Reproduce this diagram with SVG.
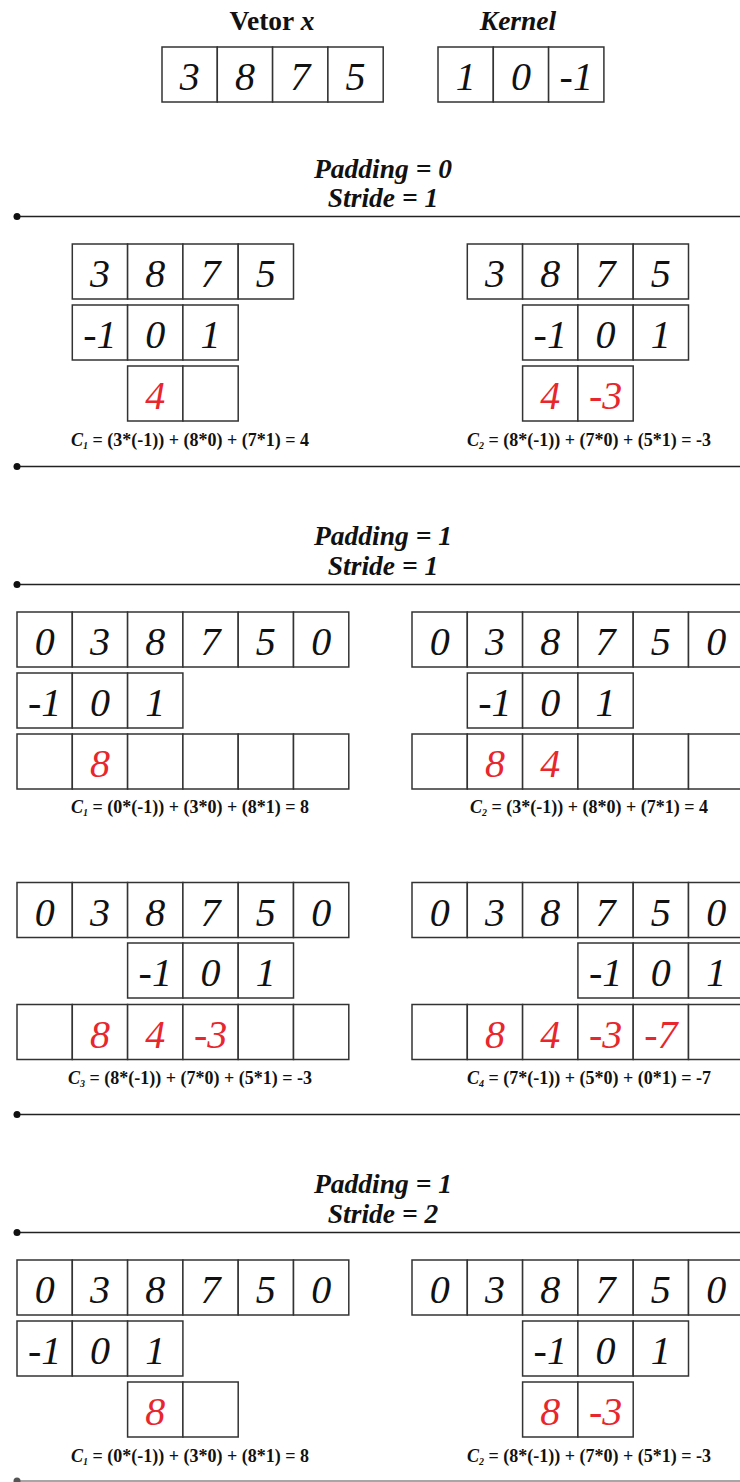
<svg xmlns="http://www.w3.org/2000/svg" width="740" height="1482" viewBox="0 0 740 1482">
<style>
.c{fill:#fff;stroke:#333;stroke-width:1.5}
.n{font-family:"Liberation Serif",serif;font-style:italic;font-size:40px;text-anchor:middle;fill:#111}
.r{fill:#e8262d}
.h{font-family:"Liberation Serif",serif;font-style:italic;font-weight:bold;font-size:27.5px;text-anchor:middle;fill:#111}
.f{font-family:"Liberation Serif",serif;font-weight:bold;font-size:18px;text-anchor:middle;fill:#111}
.ln{stroke:#222;stroke-width:1.5;fill:none}
</style>
<rect width="740" height="1482" fill="#fff"/>

<g id="titles">
<text class="h" x="272" y="30" style="font-style:normal">Vetor <tspan style="font-style:italic">x</tspan></text>
<text class="h" x="518" y="30">Kernel</text>
</g>

<g id="vector-x">
<rect class="c" x="162" y="47" width="55.3" height="55"/><rect class="c" x="217.3" y="47" width="55.3" height="55"/><rect class="c" x="272.6" y="47" width="55.3" height="55"/><rect class="c" x="327.9" y="47" width="55.3" height="55"/>
<text class="n" x="189.65" y="90">3</text><text class="n" x="244.95" y="90">8</text><text class="n" x="300.25" y="90">7</text><text class="n" x="355.55" y="90">5</text>
</g>
<g id="kernel">
<rect class="c" x="438" y="47" width="55.3" height="55"/><rect class="c" x="493.3" y="47" width="55.3" height="55"/><rect class="c" x="548.6" y="47" width="55.3" height="55"/>
<text class="n" x="465.65" y="90">1</text><text class="n" x="520.95" y="90">0</text><text class="n" x="576.25" y="90">-1</text>
</g>

<g id="connectors">
<line class="ln" x1="17" y1="216.5" x2="740" y2="216.5"/><circle cx="17" cy="216.5" r="3.5" fill="#111"/>
<line class="ln" x1="17" y1="466.5" x2="740" y2="466.5"/><circle cx="17" cy="466.5" r="3.5" fill="#111"/>
<line class="ln" x1="17" y1="584.5" x2="740" y2="584.5"/><circle cx="17" cy="584.5" r="3.5" fill="#111"/>
<line class="ln" x1="17" y1="1114.5" x2="740" y2="1114.5"/><circle cx="17" cy="1114.5" r="3.5" fill="#111"/>
<line class="ln" x1="17" y1="1232.5" x2="740" y2="1232.5"/><circle cx="17" cy="1232.5" r="3.5" fill="#111"/>
<line class="ln" x1="17" y1="1481" x2="740" y2="1481" style="stroke:#888"/><circle cx="17" cy="1481" r="3.5" fill="#555"/>
</g>

<!-- Section 1 -->
<g id="heading-1">
<text class="h" x="383" y="178">Padding = 0</text>
<text class="h" x="383" y="207">Stride = 1</text>
</g>
<g id="s1-left">
<rect class="c" x="72.3" y="244" width="55.3" height="55"/><rect class="c" x="127.6" y="244" width="55.3" height="55"/><rect class="c" x="182.9" y="244" width="55.3" height="55"/><rect class="c" x="238.2" y="244" width="55.3" height="55"/>
<text class="n" x="99.95" y="287">3</text><text class="n" x="155.25" y="287">8</text><text class="n" x="210.55" y="287">7</text><text class="n" x="265.85" y="287">5</text>
<rect class="c" x="72.3" y="305" width="55.3" height="55"/><rect class="c" x="127.6" y="305" width="55.3" height="55"/><rect class="c" x="182.9" y="305" width="55.3" height="55"/>
<text class="n" x="99.95" y="348">-1</text><text class="n" x="155.25" y="348">0</text><text class="n" x="210.55" y="348">1</text>
<rect class="c" x="127.6" y="366" width="55.3" height="55"/><rect class="c" x="182.9" y="366" width="55.3" height="55"/>
<text class="n r" x="155.25" y="409">4</text>
<text class="f" x="190" y="446"><tspan style="font-style:italic">C</tspan><tspan style="font-style:italic;font-size:10px" dy="3">1</tspan><tspan dy="-3"> = (3*(-1)) + (8*0) + (7*1) = 4</tspan></text>
</g>
<g id="s1-right">
<rect class="c" x="467.3" y="244" width="55.3" height="55"/><rect class="c" x="522.6" y="244" width="55.3" height="55"/><rect class="c" x="577.9" y="244" width="55.3" height="55"/><rect class="c" x="633.2" y="244" width="55.3" height="55"/>
<text class="n" x="494.95" y="287">3</text><text class="n" x="550.25" y="287">8</text><text class="n" x="605.55" y="287">7</text><text class="n" x="660.85" y="287">5</text>
<rect class="c" x="522.6" y="305" width="55.3" height="55"/><rect class="c" x="577.9" y="305" width="55.3" height="55"/><rect class="c" x="633.2" y="305" width="55.3" height="55"/>
<text class="n" x="550.25" y="348">-1</text><text class="n" x="605.55" y="348">0</text><text class="n" x="660.85" y="348">1</text>
<rect class="c" x="522.6" y="366" width="55.3" height="55"/><rect class="c" x="577.9" y="366" width="55.3" height="55"/>
<text class="n r" x="550.25" y="409">4</text><text class="n r" x="605.55" y="409">-3</text>
<text class="f" x="589" y="446"><tspan style="font-style:italic">C</tspan><tspan style="font-style:italic;font-size:10px" dy="3">2</tspan><tspan dy="-3"> = (8*(-1)) + (7*0) + (5*1) = -3</tspan></text>
</g>

<!-- Section 2 -->
<g id="heading-2">
<text class="h" x="383" y="545">Padding = 1</text>
<text class="h" x="383" y="575">Stride = 1</text>
</g>
<g id="s2-a-left">
<rect class="c" x="17" y="612" width="55.3" height="55"/><rect class="c" x="72.3" y="612" width="55.3" height="55"/><rect class="c" x="127.6" y="612" width="55.3" height="55"/><rect class="c" x="182.9" y="612" width="55.3" height="55"/><rect class="c" x="238.2" y="612" width="55.3" height="55"/><rect class="c" x="293.5" y="612" width="55.3" height="55"/>
<text class="n" x="44.65" y="655">0</text><text class="n" x="99.95" y="655">3</text><text class="n" x="155.25" y="655">8</text><text class="n" x="210.55" y="655">7</text><text class="n" x="265.85" y="655">5</text><text class="n" x="321.15" y="655">0</text>
<rect class="c" x="17" y="673" width="55.3" height="55"/><rect class="c" x="72.3" y="673" width="55.3" height="55"/><rect class="c" x="127.6" y="673" width="55.3" height="55"/>
<text class="n" x="44.65" y="716">-1</text><text class="n" x="99.95" y="716">0</text><text class="n" x="155.25" y="716">1</text>
<rect class="c" x="17" y="734" width="55.3" height="55"/><rect class="c" x="72.3" y="734" width="55.3" height="55"/><rect class="c" x="127.6" y="734" width="55.3" height="55"/><rect class="c" x="182.9" y="734" width="55.3" height="55"/><rect class="c" x="238.2" y="734" width="55.3" height="55"/><rect class="c" x="293.5" y="734" width="55.3" height="55"/>
<text class="n r" x="99.95" y="777">8</text>
<text class="f" x="190" y="813"><tspan style="font-style:italic">C</tspan><tspan style="font-style:italic;font-size:10px" dy="3">1</tspan><tspan dy="-3"> = (0*(-1)) + (3*0) + (8*1) = 8</tspan></text>
</g>
<g id="s2-a-right">
<rect class="c" x="412" y="612" width="55.3" height="55"/><rect class="c" x="467.3" y="612" width="55.3" height="55"/><rect class="c" x="522.6" y="612" width="55.3" height="55"/><rect class="c" x="577.9" y="612" width="55.3" height="55"/><rect class="c" x="633.2" y="612" width="55.3" height="55"/><rect class="c" x="688.5" y="612" width="55.3" height="55"/>
<text class="n" x="439.65" y="655">0</text><text class="n" x="494.95" y="655">3</text><text class="n" x="550.25" y="655">8</text><text class="n" x="605.55" y="655">7</text><text class="n" x="660.85" y="655">5</text><text class="n" x="716.15" y="655">0</text>
<rect class="c" x="467.3" y="673" width="55.3" height="55"/><rect class="c" x="522.6" y="673" width="55.3" height="55"/><rect class="c" x="577.9" y="673" width="55.3" height="55"/>
<text class="n" x="494.95" y="716">-1</text><text class="n" x="550.25" y="716">0</text><text class="n" x="605.55" y="716">1</text>
<rect class="c" x="412" y="734" width="55.3" height="55"/><rect class="c" x="467.3" y="734" width="55.3" height="55"/><rect class="c" x="522.6" y="734" width="55.3" height="55"/><rect class="c" x="577.9" y="734" width="55.3" height="55"/><rect class="c" x="633.2" y="734" width="55.3" height="55"/><rect class="c" x="688.5" y="734" width="55.3" height="55"/>
<text class="n r" x="494.95" y="777">8</text><text class="n r" x="550.25" y="777">4</text>
<text class="f" x="589" y="813"><tspan style="font-style:italic">C</tspan><tspan style="font-style:italic;font-size:10px" dy="3">2</tspan><tspan dy="-3"> = (3*(-1)) + (8*0) + (7*1) = 4</tspan></text>
</g>
<g id="s2-b-left">
<rect class="c" x="17" y="882.5" width="55.3" height="55"/><rect class="c" x="72.3" y="882.5" width="55.3" height="55"/><rect class="c" x="127.6" y="882.5" width="55.3" height="55"/><rect class="c" x="182.9" y="882.5" width="55.3" height="55"/><rect class="c" x="238.2" y="882.5" width="55.3" height="55"/><rect class="c" x="293.5" y="882.5" width="55.3" height="55"/>
<text class="n" x="44.65" y="925.5">0</text><text class="n" x="99.95" y="925.5">3</text><text class="n" x="155.25" y="925.5">8</text><text class="n" x="210.55" y="925.5">7</text><text class="n" x="265.85" y="925.5">5</text><text class="n" x="321.15" y="925.5">0</text>
<rect class="c" x="127.6" y="943" width="55.3" height="55"/><rect class="c" x="182.9" y="943" width="55.3" height="55"/><rect class="c" x="238.2" y="943" width="55.3" height="55"/>
<text class="n" x="155.25" y="986">-1</text><text class="n" x="210.55" y="986">0</text><text class="n" x="265.85" y="986">1</text>
<rect class="c" x="17" y="1004.5" width="55.3" height="55"/><rect class="c" x="72.3" y="1004.5" width="55.3" height="55"/><rect class="c" x="127.6" y="1004.5" width="55.3" height="55"/><rect class="c" x="182.9" y="1004.5" width="55.3" height="55"/><rect class="c" x="238.2" y="1004.5" width="55.3" height="55"/><rect class="c" x="293.5" y="1004.5" width="55.3" height="55"/>
<text class="n r" x="99.95" y="1047.5">8</text><text class="n r" x="155.25" y="1047.5">4</text><text class="n r" x="210.55" y="1047.5">-3</text>
<text class="f" x="190" y="1083.5"><tspan style="font-style:italic">C</tspan><tspan style="font-style:italic;font-size:10px" dy="3">3</tspan><tspan dy="-3"> = (8*(-1)) + (7*0) + (5*1) = -3</tspan></text>
</g>
<g id="s2-b-right">
<rect class="c" x="412" y="882.5" width="55.3" height="55"/><rect class="c" x="467.3" y="882.5" width="55.3" height="55"/><rect class="c" x="522.6" y="882.5" width="55.3" height="55"/><rect class="c" x="577.9" y="882.5" width="55.3" height="55"/><rect class="c" x="633.2" y="882.5" width="55.3" height="55"/><rect class="c" x="688.5" y="882.5" width="55.3" height="55"/>
<text class="n" x="439.65" y="925.5">0</text><text class="n" x="494.95" y="925.5">3</text><text class="n" x="550.25" y="925.5">8</text><text class="n" x="605.55" y="925.5">7</text><text class="n" x="660.85" y="925.5">5</text><text class="n" x="716.15" y="925.5">0</text>
<rect class="c" x="577.9" y="943" width="55.3" height="55"/><rect class="c" x="633.2" y="943" width="55.3" height="55"/><rect class="c" x="688.5" y="943" width="55.3" height="55"/>
<text class="n" x="605.55" y="986">-1</text><text class="n" x="660.85" y="986">0</text><text class="n" x="716.15" y="986">1</text>
<rect class="c" x="412" y="1004.5" width="55.3" height="55"/><rect class="c" x="467.3" y="1004.5" width="55.3" height="55"/><rect class="c" x="522.6" y="1004.5" width="55.3" height="55"/><rect class="c" x="577.9" y="1004.5" width="55.3" height="55"/><rect class="c" x="633.2" y="1004.5" width="55.3" height="55"/><rect class="c" x="688.5" y="1004.5" width="55.3" height="55"/>
<text class="n r" x="494.95" y="1047.5">8</text><text class="n r" x="550.25" y="1047.5">4</text><text class="n r" x="605.55" y="1047.5">-3</text><text class="n r" x="660.85" y="1047.5">-7</text>
<text class="f" x="589" y="1083.5"><tspan style="font-style:italic">C</tspan><tspan style="font-style:italic;font-size:10px" dy="3">4</tspan><tspan dy="-3"> = (7*(-1)) + (5*0) + (0*1) = -7</tspan></text>
</g>

<!-- Section 3 -->
<g id="heading-3">
<text class="h" x="383" y="1193">Padding = 1</text>
<text class="h" x="383" y="1223">Stride = 2</text>
</g>
<g id="s3-left">
<rect class="c" x="17" y="1260" width="55.3" height="55"/><rect class="c" x="72.3" y="1260" width="55.3" height="55"/><rect class="c" x="127.6" y="1260" width="55.3" height="55"/><rect class="c" x="182.9" y="1260" width="55.3" height="55"/><rect class="c" x="238.2" y="1260" width="55.3" height="55"/><rect class="c" x="293.5" y="1260" width="55.3" height="55"/>
<text class="n" x="44.65" y="1303">0</text><text class="n" x="99.95" y="1303">3</text><text class="n" x="155.25" y="1303">8</text><text class="n" x="210.55" y="1303">7</text><text class="n" x="265.85" y="1303">5</text><text class="n" x="321.15" y="1303">0</text>
<rect class="c" x="17" y="1321" width="55.3" height="55"/><rect class="c" x="72.3" y="1321" width="55.3" height="55"/><rect class="c" x="127.6" y="1321" width="55.3" height="55"/>
<text class="n" x="44.65" y="1364">-1</text><text class="n" x="99.95" y="1364">0</text><text class="n" x="155.25" y="1364">1</text>
<rect class="c" x="127.6" y="1382" width="55.3" height="55"/><rect class="c" x="182.9" y="1382" width="55.3" height="55"/>
<text class="n r" x="155.25" y="1425">8</text>
<text class="f" x="190" y="1462"><tspan style="font-style:italic">C</tspan><tspan style="font-style:italic;font-size:10px" dy="3">1</tspan><tspan dy="-3"> = (0*(-1)) + (3*0) + (8*1) = 8</tspan></text>
</g>
<g id="s3-right">
<rect class="c" x="412" y="1260" width="55.3" height="55"/><rect class="c" x="467.3" y="1260" width="55.3" height="55"/><rect class="c" x="522.6" y="1260" width="55.3" height="55"/><rect class="c" x="577.9" y="1260" width="55.3" height="55"/><rect class="c" x="633.2" y="1260" width="55.3" height="55"/><rect class="c" x="688.5" y="1260" width="55.3" height="55"/>
<text class="n" x="439.65" y="1303">0</text><text class="n" x="494.95" y="1303">3</text><text class="n" x="550.25" y="1303">8</text><text class="n" x="605.55" y="1303">7</text><text class="n" x="660.85" y="1303">5</text><text class="n" x="716.15" y="1303">0</text>
<rect class="c" x="522.6" y="1321" width="55.3" height="55"/><rect class="c" x="577.9" y="1321" width="55.3" height="55"/><rect class="c" x="633.2" y="1321" width="55.3" height="55"/>
<text class="n" x="550.25" y="1364">-1</text><text class="n" x="605.55" y="1364">0</text><text class="n" x="660.85" y="1364">1</text>
<rect class="c" x="522.6" y="1382" width="55.3" height="55"/><rect class="c" x="577.9" y="1382" width="55.3" height="55"/>
<text class="n r" x="550.25" y="1425">8</text><text class="n r" x="605.55" y="1425">-3</text>
<text class="f" x="589" y="1462"><tspan style="font-style:italic">C</tspan><tspan style="font-style:italic;font-size:10px" dy="3">2</tspan><tspan dy="-3"> = (8*(-1)) + (7*0) + (5*1) = -3</tspan></text>
</g>
</svg>
